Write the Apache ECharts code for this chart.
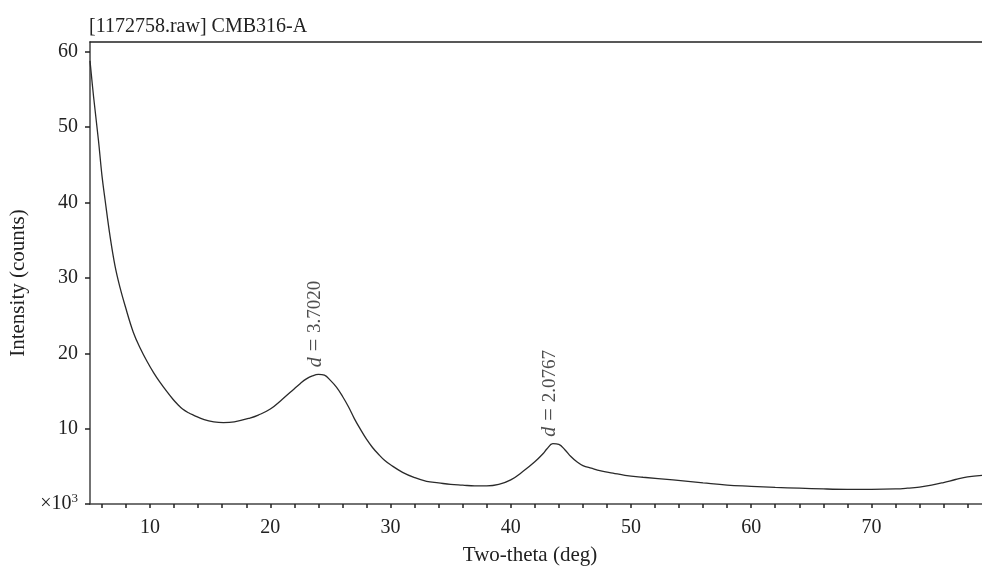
<!DOCTYPE html>
<html>
<head>
<meta charset="utf-8">
<script src="https://cdn.jsdelivr.net/npm/echarts@6/dist/echarts.min.js"></script>
<style>
  html, body { margin: 0; padding: 0; background: #fff; }
  #chart { width: 982px; height: 571px; }
</style>
</head>
<body>
<div id="chart"></div>
<script>
// two-theta (deg) and intensity (x10^3 counts)
const twoTheta = [5, 5.3, 5.7, 6, 6.25, 6.67, 7.08, 7.5, 7.92, 8.6, 9.2, 9.75, 10.3, 10.8, 11.4, 11.9,
  12.3, 12.7, 13.2, 13.6, 14.5, 15.3, 16.1, 17, 18.3, 19, 20, 21, 22, 22.5, 23, 23.5, 24, 24.5, 25, 25.5, 26,
  26.5, 27, 27.5, 28, 28.5, 29, 29.5, 30, 31, 32, 33, 34, 35, 36, 37, 38, 39, 40, 41, 42, 42.7,
  43, 43.5, 44, 44.5, 45, 45.5, 46, 46.7, 47.5, 48.5, 49.5, 51, 53.5, 56, 58, 60, 62, 64, 66, 68,
  70, 72, 73, 74, 75, 76, 77, 78, 79.2]
const intensity = [58.8, 54, 48.3, 43.5, 40.4, 35.5, 31.6, 28.7, 26.3, 22.8, 20.6, 18.9, 17.4, 16.2, 14.9, 13.9,
  13.2, 12.6, 12.1, 11.8, 11.2, 10.9, 10.8, 10.9, 11.4, 11.8, 12.6, 13.9, 15.3, 16.0, 16.6, 17.0, 17.2, 17.1, 16.4, 15.5, 14.3,
  12.9, 11.3, 9.9, 8.6, 7.5, 6.6, 5.8, 5.2, 4.2, 3.5, 3.0, 2.8, 2.6, 2.5, 2.4, 2.4, 2.6, 3.2, 4.3, 5.6, 6.7,
  7.3, 8.0, 7.9, 7.2, 6.3, 5.6, 5.1, 4.75, 4.4, 4.1, 3.8, 3.55, 3.2, 2.8, 2.5, 2.35, 2.2, 2.1, 2.0, 1.95,
  1.95, 2.0, 2.1, 2.25, 2.5, 2.85, 3.25, 3.6, 3.8]

// peak annotations
const peakX = [24, 43.5]
const peakY = [17.2, 8.0]
const peakD = ['3.7020', '2.0767']

const xTicks = [6, 8, 10, 12, 14, 16, 18, 20, 22, 24, 26, 28, 30, 32, 34, 36, 38, 40, 42, 44, 46, 48, 50,
  52, 54, 56, 58, 60, 62, 64, 66, 68, 70, 72, 74, 76, 78]
const xLabels = [10, 20, 30, 40, 50, 60, 70]
const yTicks = [0, 10, 20, 30, 40, 50, 60]

const font = '"Liberation Serif", "DejaVu Serif", serif'
const ink = '#222'

const mychart = echarts.init(document.getElementById('chart'))

const curve = twoTheta.map((x, i) => [x, intensity[i]])
const peaks = peakX.map((x, i) => [x, peakY[i]])

const options = {
  animation: false,
  backgroundColor: '#fff',
  textStyle: { fontFamily: font, color: ink },
  title: {
    text: '[1172758.raw] CMB316-A',
    left: 84,
    top: 12,
    textStyle: { fontFamily: font, fontSize: 20, fontWeight: 'normal', color: ink }
  },
  grid: {
    left: 90,
    right: 0,
    top: 42,
    bottom: 62
  },
  xAxis: [
    {
      type: 'value',
      min: 5,
      max: 79.2,
      name: 'Two-theta (deg)',
      nameLocation: 'middle',
      nameGap: 41,
      nameTextStyle: { fontFamily: font, fontSize: 21, color: ink, padding: [0, 12, 0, 0] },
      splitLine: { show: false },
      axisLine: { show: true, lineStyle: { color: '#444', width: 1.5 } },
      axisTick: { show: true, length: 4, customValues: xTicks, lineStyle: { color: '#222', width: 1.5 } },
      axisLabel: { customValues: xLabels, margin: 14, fontFamily: font, fontSize: 20, color: ink }
    },
    {
      type: 'value',
      position: 'top',
      min: 5,
      max: 79.2,
      splitLine: { show: false },
      axisLine: { show: true, lineStyle: { color: '#222', width: 1.5 } },
      axisTick: { show: false },
      axisLabel: { show: false }
    }
  ],
  yAxis: {
    type: 'value',
    min: 0,
    max: 61.3,
    splitLine: { show: false },
    axisLine: { show: true, lineStyle: { color: '#444', width: 1.5 } },
    axisTick: { show: true, length: 5, customValues: yTicks, lineStyle: { color: '#222', width: 1.5 } },
    axisLabel: {
      customValues: yTicks,
      margin: 12,
      fontFamily: font,
      fontSize: 20,
      color: ink,
      formatter: v => v === 0 ? '×10{sup|3}' : String(v),
      rich: {
        sup: { fontFamily: font, fontSize: 13, color: ink, padding: [0, 0, 10, 0] }
      }
    }
  },
  graphic: [
    {
      type: 'text',
      x: 18,
      y: 283,
      rotation: Math.PI / 2,
      style: {
        text: 'Intensity (counts)',
        fontFamily: font,
        fontSize: 21,
        fill: ink,
        align: 'center',
        verticalAlign: 'middle'
      }
    }
  ],
  series: [
    {
      name: 'CMB316-A',
      type: 'line',
      data: curve,
      smooth: 0.4,
      showSymbol: false,
      lineStyle: { color: '#2a2a2a', width: 1.3 },
      silent: true
    },
    {
      name: 'peaks',
      type: 'scatter',
      data: peaks,
      symbolSize: 0,
      silent: true,
      label: {
        show: true,
        position: [-3, -7],
        rotate: 90,
        align: 'left',
        verticalAlign: 'middle',
        fontFamily: font,
        fontSize: 19,
        color: ink,
        formatter: p => '{i|d}{s| = }' + peakD[p.dataIndex],
        rich: {
          i: { fontFamily: font, fontSize: 20, fontStyle: 'italic', color: ink },
          s: { fontFamily: font, fontSize: 23, color: ink }
        }
      }
    }
  ]
}

mychart.setOption(options)
</script>
</body>
</html>
